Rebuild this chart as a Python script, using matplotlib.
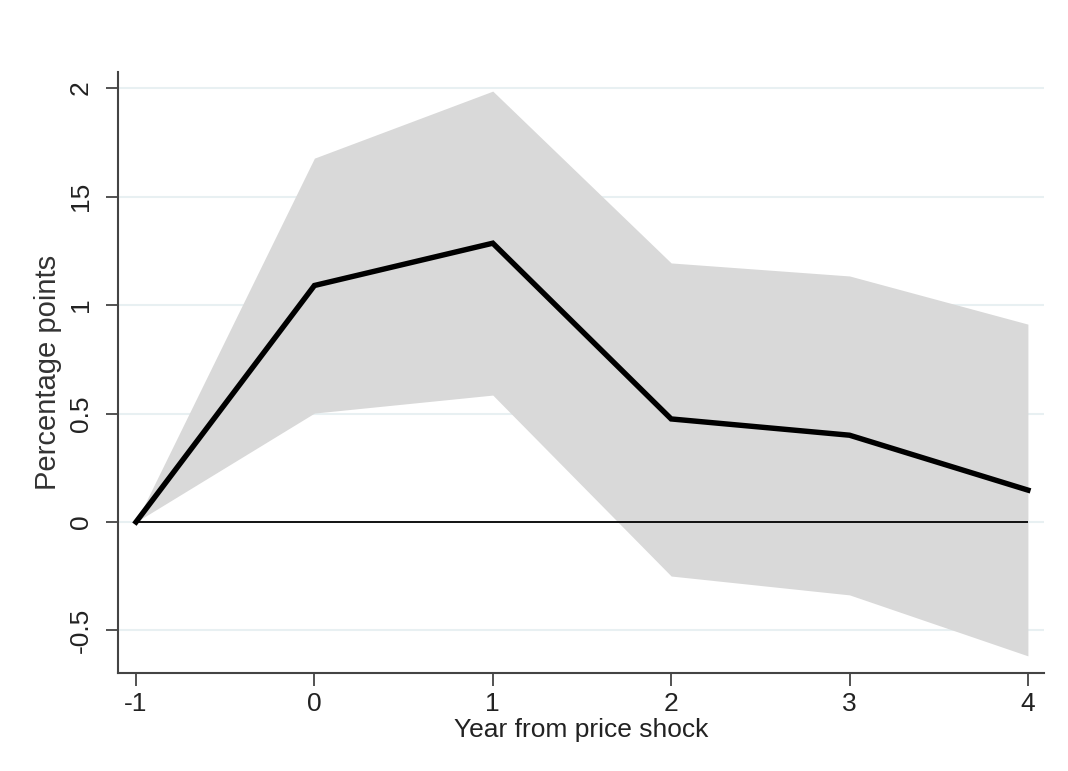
import matplotlib.pyplot as plt

plt.rcParams['font.family'] = ['Liberation Sans', 'DejaVu Sans']

years = [-1, 0, 1, 2, 3, 4]
effect = [0.0, 1.09, 1.285, 0.475, 0.40, 0.147]
upper = [0.0, 1.677, 1.986, 1.194, 1.134, 0.912]
lower = [0.0, 0.502, 0.585, -0.249, -0.336, -0.617]

ytick_vals = [-0.5, 0, 0.5, 1, 1.5, 2]
ytick_labels = ["-0.5", "0", "0.5", "1", "15", "2"]


def main():
    fig = plt.figure(figsize=(10.68, 7.71), dpi=100)
    ax = fig.add_axes([0.1105, 0.1271, 0.867, 0.7795])

    for v in ytick_vals:
        ax.axhline(v, color="#e8f0f2", lw=1.5, zorder=0)

    ax.fill_between(years, lower, upper, color="#d9d9d9", lw=0, zorder=1)
    ax.hlines(0, years[0], years[-1], color="black", lw=1.3, zorder=2)
    ax.plot(years, effect, color="black", lw=3.9, zorder=3,
            solid_joinstyle="miter")

    ax.set_xlim(-1.101, 4.09)
    ax.set_ylim(-0.696, 2.074)
    ax.set_xticks(years)
    ax.set_xticklabels([str(y) for y in years])
    ax.set_yticks(ytick_vals)
    ax.set_yticklabels(ytick_labels, rotation=90, va="center")

    for side in ["top", "right"]:
        ax.spines[side].set_visible(False)
    for side in ["left", "bottom"]:
        ax.spines[side].set_color("#444444")
        ax.spines[side].set_linewidth(1.5)

    ax.tick_params(axis="both", direction="out", length=9, width=1.3,
                   color="#444444", labelsize=19, labelcolor="#222222")
    ax.tick_params(axis="y", pad=9)
    ax.tick_params(axis="x", pad=5)

    ax.set_xlabel("Year from price shock", fontsize=19, color="#222222",
                  labelpad=1)
    ax.set_ylabel("Percentage points", fontsize=21, color="#333333",
                  labelpad=5)

    fig.savefig("out.png", dpi=100)


if __name__ == "__main__":
    main()
